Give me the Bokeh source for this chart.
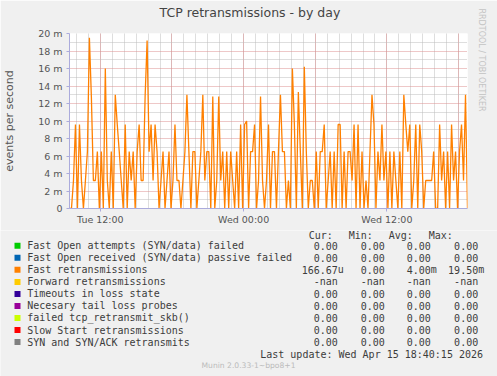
import pandas as pd
from bokeh.plotting import figure
from bokeh.layouts import column
from bokeh.models import Range1d, FixedTicker, DatetimeTickFormatter, Title
from bokeh.core.properties import value
from bokeh.embed import file_html
from bokeh.resources import INLINE

# ---------------- data ----------------
start_time = "2026-04-14 09:25"
end_time = "2026-04-15 18:45"
sample_step = "10min"

# Fast retransmissions, events per second (values in milli-units, "m")
fast_retrans_m = [
    0, 0, 3.2, 9.6, 0, 9.6, 3.2, 0, 3.2, 6.5, 19.5, 12.7, 3.2, 3.2, 6.5, 0, 6.5, 0, 16, 3.2,
    0, 6.5, 0, 13, 9.6, 6.5, 3.2, 0, 9.6, 0, 6.5, 3.2, 6.5, 0,
    6.5, 9.6, 3.2, 3.2, 12.8, 19.2, 6.5, 9.6, 3.2, 9.6, 6.5, 0, 3.2, 6.5, 0, 3.2,
    6.5, 0, 3.2, 9.6, 3.2, 3.2, 0, 3.2, 6.5, 13, 6.5, 0, 6.5, 6.5, 0, 3.2, 6.5, 13,
    3.2, 6.5, 6.5, 0, 12.8, 0, 3.2, 12.8, 3.2, 6.5, 0, 6.5, 0, 6.5, 3.2, 0, 6.5, 0,
    9.6, 0, 9.6, 10, 0, 6.5, 6.5, 9.6, 0, 3.2, 12.8, 3.2, 0, 3.2, 9.6, 0,
    6.5, 6.5, 0, 6.5, 13, 6.5, 6.5, 0, 3.2, 0, 16, 9.6, 0, 13.3, 6.5, 0, 16.2, 6.5,
    0, 3.2, 3.2, 0, 6.5, 0, 6.5, 6.5, 9.6, 0, 3.2, 6.5, 0, 6.5, 0, 9.6,
    9.6, 0, 6.5, 0, 6.5, 6.5, 3.2, 9.6, 0, 9.6, 0, 6.5, 0, 3.2, 0, 6.5, 13, 9.6,
    0, 6.5, 3.2, 9.6, 3.2, 6.5, 0, 6.5, 0, 6.5, 3.2, 0, 6.5, 0, 13, 9.6,
    6.5, 9.6, 0, 3.2, 9.6, 0, 9.6, 6.5, 0, 3.2, 3.2, 3.2, 3.2, 6.5, 0, 0, 9.6, 3.2,
    6.5, 0, 6.5, 0, 9.6, 3.2, 6.5, 0, 6.5, 9.6, 3.2, 13, 0,
]

y_major = [0, 2, 4, 6, 8, 10, 12, 14, 16, 18, 20]
y_minor = [1, 3, 5, 7, 9, 11, 13, 15, 17, 19]
y_tick_labels = ["0", "2 m", "4 m", "6 m", "8 m", "10 m", "12 m", "14 m", "16 m", "18 m", "20 m"]
x_label_times = ["2026-04-14 12:00", "2026-04-15 00:00", "2026-04-15 12:00"]
x_major_grid_times = ["2026-04-14 12:00", "2026-04-14 18:00", "2026-04-15 00:00",
                      "2026-04-15 06:00", "2026-04-15 12:00", "2026-04-15 18:00"]
x_minor_grid_start = "2026-04-14 10:00"
x_minor_grid_end = "2026-04-15 18:00"

title_text = "TCP retransmissions - by day"
y_label_text = "events per second"
legend_labels = ["Fast Open attempts (SYN/data) failed",
                 "Fast Open received (SYN/data) passive failed",
                 "Fast retransmissions",
                 "Forward retransmissions",
                 "Timeouts in loss state",
                 "Necesary tail loss probes",
                 "failed tcp_retransmit_skb()",
                 "Slow Start retransmissions",
                 "SYN and SYN/ACK retransmits"]
legend_colors = ["#00CC00", "#0066B3", "#FF8000", "#FFCC00", "#330099",
                 "#990099", "#CCFF00", "#FF0000", "#808080"]
stat_headers = ["Cur:", "Min:", "Avg:", "Max:"]
cur_vals = ["0.00", "0.00", "166.67u", "-nan", "0.00", "0.00", "0.00", "0.00", "0.00"]
min_vals = ["0.00", "0.00", "0.00", "-nan", "0.00", "0.00", "0.00", "0.00", "0.00"]
avg_vals = ["0.00", "0.00", "4.00m", "-nan", "0.00", "0.00", "0.00", "0.00", "0.00"]
max_vals = ["0.00", "0.00", "19.50m", "-nan", "0.00", "0.00", "0.00", "0.00", "0.00"]
last_update = "Last update: Wed Apr 15 18:40:15 2026"
munin_version = "Munin 2.0.33-1~bpo8+1"
watermark = "RRDTOOL / TOBI OETIKER"

# ---------------- styles ----------------
BG = "#F0F0F0"
AXIS_COLOR = "#ABABDC"
MAJOR_GRID = "#DC9090"
MINOR_GRID = "#BDBDBD"
TEXT = "#3C3C3C"
LINE_COLOR = "#FF8000"
MONO = "DejaVu Sans Mono"

W = 497
H_TOP, H_BOT = 230, 146


def ms(t):
    return pd.Timestamp(t).value / 1e6


times = pd.date_range(start_time, periods=len(fast_retrans_m), freq=sample_step)

# ---------------- chart ----------------
p = figure(width=W, height=H_TOP, x_axis_type="datetime",
           x_range=Range1d(ms(start_time), ms(end_time)), y_range=Range1d(0, 20),
           output_backend="svg", toolbar_location=None,
           min_border_left=67, min_border_right=30, min_border_top=33, min_border_bottom=22,
           background_fill_color="white", border_fill_color=BG, outline_line_color=None)
p.frame_align = False
p.title.text = ""
p.title.visible = False

p.line(times, fast_retrans_m, line_color=LINE_COLOR, line_width=1.3)

# spacer (closest to the frame) then the real title above it
p.add_layout(Title(text=" ", text_font_size="1px", standoff=9), "above")
p.add_layout(Title(text=title_text, align="left", offset=90, standoff=4,
                   text_font="DejaVu Sans", text_font_size="12.5px",
                   text_font_style="normal", text_color="#444444"), "above")

p.add_layout(Title(text=watermark, align="left", offset=-25, standoff=18,
                   text_font="DejaVu Sans", text_font_size="8px",
                   text_font_style="normal", text_color="#C4C4C4"), "right")

p.yaxis.ticker = FixedTicker(ticks=y_major)
p.yaxis.major_label_overrides = {t: s for t, s in zip(y_major, y_tick_labels)}
p.xaxis.ticker = FixedTicker(ticks=[ms(t) for t in x_label_times])
fmt = "%a %H:%M"
p.xaxis.formatter = DatetimeTickFormatter(hours=fmt, hourmin=fmt, days=fmt, minutes=fmt,
                                          minsec=fmt, months=fmt, years=fmt)
for ax in (p.xaxis[0], p.yaxis[0]):
    ax.axis_line_color = AXIS_COLOR
    ax.major_tick_line_color = AXIS_COLOR
    ax.minor_tick_line_color = None
    ax.major_tick_out = 3
    ax.major_tick_in = 0
    ax.major_label_text_font = "DejaVu Sans"
    ax.major_label_text_font_size = "9.5px"
    ax.major_label_text_color = "#555555"
p.yaxis.major_label_standoff = 4
p.xaxis.major_label_standoff = 2
p.yaxis.axis_label = y_label_text
p.yaxis.axis_label_text_font = "DejaVu Sans"
p.yaxis.axis_label_text_font_size = "11px"
p.yaxis.axis_label_text_font_style = "normal"
p.yaxis.axis_label_text_color = "#555555"
p.yaxis.axis_label_standoff = 19

p.ygrid.ticker = FixedTicker(ticks=y_major, minor_ticks=y_minor)
p.xgrid.ticker = FixedTicker(
    ticks=[ms(t) for t in x_major_grid_times],
    minor_ticks=[ms(t) for t in pd.date_range(x_minor_grid_start, x_minor_grid_end, freq="1h")])
for g in (p.xgrid[0], p.ygrid[0]):
    g.grid_line_color = MAJOR_GRID
    g.grid_line_dash = "1 1"
    g.minor_grid_line_color = MINOR_GRID
    g.minor_grid_line_dash = "1 1"

# ---------------- legend / statistics block ----------------
q = figure(width=W, height=H_BOT, x_range=Range1d(0, W), y_range=Range1d(H_TOP + H_BOT, H_TOP),
           output_backend="svg", toolbar_location=None, x_axis_location=None, y_axis_location=None,
           min_border=0, background_fill_color=BG, border_fill_color=BG, outline_line_color=None)
q.frame_align = False
q.grid.visible = False

row_y0, row_dy = 245.3, 12.03
rows_y = [row_y0 + i * row_dy for i in range(len(legend_labels))]
font_kw = dict(text_font=value(MONO), text_font_size=value("10px"), text_color=TEXT,
               text_baseline="middle")

q.rect(x=[17] * len(rows_y), y=rows_y, width=6, height=6, fill_color=legend_colors, line_color=None)
q.text(x=[26.7] * len(rows_y), y=rows_y, text=legend_labels, text_align="left", **font_kw)
q.text(x=[308.3, 348.3, 388.3, 428.3], y=[234.5] * 4, text=stat_headers, text_align="left", **font_kw)

col_ends = [337.3, 384.3, 430.3, 477.7]
num_x, num_y, num_t, unit_x, unit_y, unit_t = [], [], [], [], [], []
for col, vals in zip(col_ends, [cur_vals, min_vals, avg_vals, max_vals]):
    for ry, v in zip(rows_y, vals):
        if v[-1].isalpha() and v != "-nan":
            num, unit = v[:-1], v[-1]
            unit_x.append(col); unit_y.append(ry); unit_t.append(unit)
        else:
            num = v
        num_x.append(col); num_y.append(ry); num_t.append(num)
q.text(x=num_x, y=num_y, text=num_t, text_align="right", **font_kw)
q.text(x=unit_x, y=unit_y, text=unit_t, text_align="left", **font_kw)

q.text(x=[482.5], y=[353.7], text=[last_update], text_align="right", **font_kw)
q.text(x=[248], y=[365.3], text=[munin_version], text_align="center", text_baseline="middle",
       text_font=value("DejaVu Sans"), text_font_size=value("7.6px"), text_color="#BBBBBB")

layout = column(p, q, spacing=0)
open("out.html", "w").write(file_html(layout, INLINE))
